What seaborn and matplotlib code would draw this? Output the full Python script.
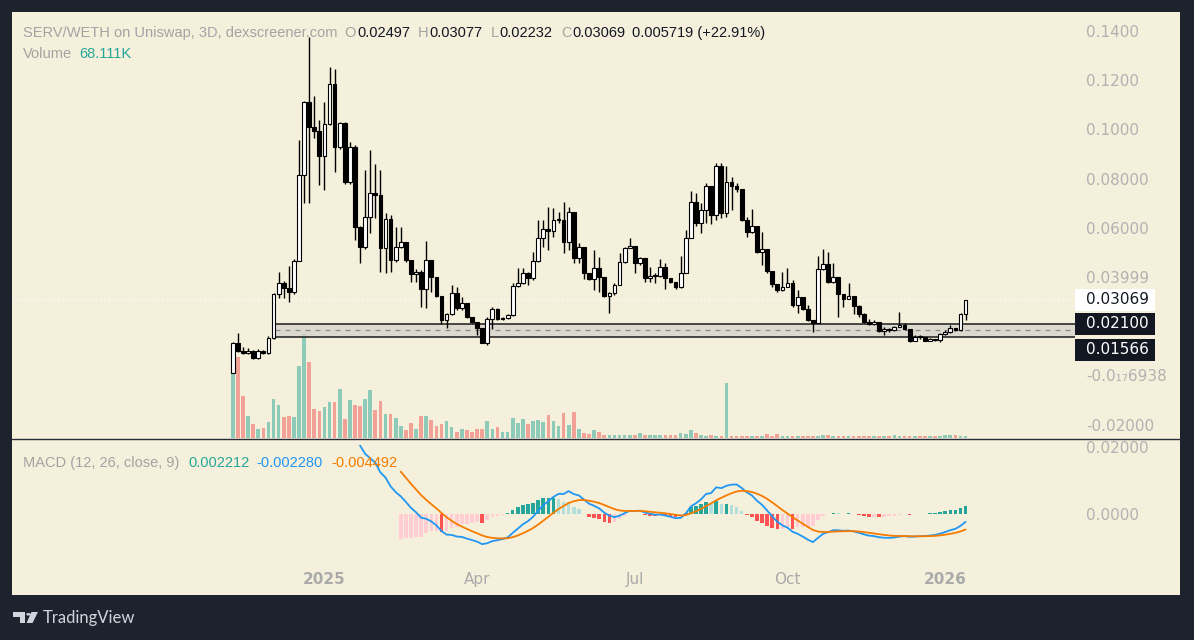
import numpy as np
import pandas as pd
import matplotlib
matplotlib.use('Agg')
import matplotlib.pyplot as plt
from matplotlib.patches import Rectangle, Polygon, Circle
import seaborn as sns

sns.set_theme(style='white')
plt.rcParams['font.family'] = ['DejaVu Sans']

# ---- data (3D candles, SERV/WETH) ----
first_open = 0.00085
close = [0.0133, 0.0100, 0.0090, 0.0099, 0.0069, 0.0100, 0.0090, 0.0151, 0.0330, 0.0377,
         0.0354, 0.0338, 0.0465, 0.0813, 0.1110, 0.1011, 0.0995, 0.0893, 0.1021, 0.1183,
         0.0930, 0.1025, 0.0787, 0.0927, 0.0605, 0.0523, 0.0645, 0.0743, 0.0733, 0.0519,
         0.0634, 0.0469, 0.0523, 0.0541, 0.0469, 0.0411, 0.0422, 0.0350, 0.0469, 0.0399,
         0.0324, 0.0225, 0.0248, 0.0334, 0.0273, 0.0296, 0.0236, 0.0218, 0.0191, 0.0133,
         0.0228, 0.0269, 0.0228, 0.0232, 0.0246, 0.0365, 0.0377, 0.0415, 0.0395, 0.0465,
         0.0560, 0.0596, 0.0588, 0.0630, 0.0630, 0.0544, 0.0664, 0.0476, 0.0523, 0.0415,
         0.0390, 0.0435, 0.0401, 0.0324, 0.0334, 0.0368, 0.0462, 0.0516, 0.0527, 0.0455,
         0.0476, 0.0395, 0.0405, 0.0405, 0.0442, 0.0395, 0.0381, 0.0358, 0.0415, 0.0557,
         0.0706, 0.0618, 0.0672, 0.0770, 0.0652, 0.0851, 0.0659, 0.0787, 0.0770, 0.0756,
         0.0632, 0.0584, 0.0607, 0.0503, 0.0512, 0.0425, 0.0370, 0.0347, 0.0361, 0.0374,
         0.0286, 0.0320, 0.0269, 0.0225, 0.0212, 0.0431, 0.0452, 0.0381, 0.0401, 0.0330,
         0.0311, 0.0323, 0.0282, 0.0248, 0.0218, 0.0209, 0.0218, 0.0182, 0.0187, 0.0185,
         0.0196, 0.0205, 0.0187, 0.0141, 0.0157, 0.0155, 0.0141, 0.0147, 0.0144, 0.0168,
         0.0178, 0.0194, 0.0185, 0.02497, 0.03069]
high = [0.0134, 0.0171, 0.0117, 0.0113, 0.0103, 0.0106, 0.0103, 0.0160, 0.0336, 0.0420,
        0.0385, 0.0446, 0.0472, 0.0957, 0.1117, 0.1376, 0.1136, 0.1037, 0.1113, 0.1252,
        0.1244, 0.1032, 0.1030, 0.0950, 0.0935, 0.0608, 0.0835, 0.0916, 0.0860, 0.0835,
        0.0659, 0.0650, 0.0605, 0.0605, 0.0544, 0.0469, 0.0431, 0.0428, 0.0546, 0.0469,
        0.0399, 0.0324, 0.0255, 0.0367, 0.0361, 0.0320, 0.0296, 0.0236, 0.0218, 0.0191,
        0.0236, 0.0280, 0.0273, 0.0236, 0.0250, 0.0374, 0.0435, 0.0435, 0.0420, 0.0503,
        0.0632, 0.0632, 0.0686, 0.0679, 0.0666, 0.0706, 0.0683, 0.0664, 0.0537, 0.0523,
        0.0415, 0.0510, 0.0483, 0.0401, 0.0340, 0.0374, 0.0496, 0.0523, 0.0557, 0.0527,
        0.0483, 0.0476, 0.0442, 0.0415, 0.0472, 0.0455, 0.0395, 0.0381, 0.0485, 0.0591,
        0.0751, 0.0740, 0.0699, 0.0781, 0.0770, 0.0862, 0.0864, 0.0851, 0.0808, 0.0781,
        0.0756, 0.0645, 0.0675, 0.0607, 0.0584, 0.0512, 0.0425, 0.0370, 0.0421, 0.0435,
        0.0388, 0.0347, 0.0320, 0.0286, 0.0225, 0.0485, 0.0512, 0.0503, 0.0455, 0.0401,
        0.0330, 0.0374, 0.0323, 0.0286, 0.0252, 0.0228, 0.0225, 0.0218, 0.0198, 0.0191,
        0.0201, 0.0256, 0.0212, 0.0187, 0.0164, 0.0164, 0.0155, 0.0151, 0.0149, 0.0174,
        0.0185, 0.0205, 0.0194, 0.0252, 0.03077]
low = [0.00085, 0.0096, 0.0088, 0.0085, 0.0066, 0.0066, 0.0087, 0.0088, 0.0148, 0.0313,
       0.0313, 0.0300, 0.0330, 0.0465, 0.0700, 0.0700, 0.0963, 0.0774, 0.0754, 0.1017,
       0.0828, 0.0920, 0.0780, 0.0780, 0.0551, 0.0456, 0.0512, 0.0578, 0.0641, 0.0422,
       0.0418, 0.0422, 0.0462, 0.0516, 0.0462, 0.0381, 0.0381, 0.0279, 0.0273, 0.0340,
       0.0320, 0.0209, 0.0191, 0.0245, 0.0266, 0.0266, 0.0232, 0.0214, 0.0164, 0.0130,
       0.0124, 0.0187, 0.0225, 0.0225, 0.0228, 0.0240, 0.0360, 0.0370, 0.0368, 0.0388,
       0.0460, 0.0523, 0.0510, 0.0564, 0.0618, 0.0496, 0.0510, 0.0458, 0.0455, 0.0390,
       0.0388, 0.0347, 0.0340, 0.0320, 0.0252, 0.0327, 0.0368, 0.0455, 0.0516, 0.0415,
       0.0449, 0.0381, 0.0381, 0.0374, 0.0401, 0.0350, 0.0374, 0.0350, 0.0354, 0.0415,
       0.0557, 0.0607, 0.0577, 0.0618, 0.0615, 0.0632, 0.0638, 0.0645, 0.0672, 0.0747,
       0.0629, 0.0561, 0.0577, 0.0499, 0.0449, 0.0415, 0.0361, 0.0340, 0.0344, 0.0358,
       0.0279, 0.0252, 0.0266, 0.0222, 0.0178, 0.0212, 0.0429, 0.0374, 0.0374, 0.0239,
       0.0279, 0.0309, 0.0250, 0.0239, 0.0212, 0.0205, 0.0205, 0.0178, 0.0164, 0.0178,
       0.0182, 0.0196, 0.0185, 0.0137, 0.0141, 0.0147, 0.0138, 0.0140, 0.0140, 0.0137,
       0.0164, 0.0171, 0.0182, 0.0182, 0.02232]
volume_k = [1950, 2430, 1260, 660, 420, 270, 300, 480, 1170, 990, 630, 660, 630, 2160, 3150,
            2280, 870, 810, 930, 1080, 1080, 1470, 570, 1140, 990, 960, 1170, 1440, 840, 1110,
            720, 720, 600, 360, 240, 450, 270, 660, 660, 540, 360, 420, 510, 330, 180, 270,
            240, 180, 270, 270, 510, 270, 330, 180, 180, 600, 450, 570, 420, 510, 540,
            480, 690, 510, 360, 750, 390, 780, 270, 150, 120, 240, 180, 90, 90, 90, 90, 90,
            90, 90, 150, 90, 90, 90, 90, 90, 90, 90, 150, 120, 240, 150,
            90, 60, 90, 60, 60, 1650, 60, 60, 60, 60, 60, 60, 60, 120, 60, 120, 60, 60, 60,
            60, 60, 60, 60, 60, 90, 90, 60, 60, 60, 60, 60,
            60, 60, 60, 60, 60, 60, 60, 90, 60, 60, 60, 60, 60, 60, 60, 60, 60, 90, 90, 90,
            60, 68.111]

zone_top, zone_bottom = 0.02100, 0.01566
zone_start = 8.3
last_price = 0.03069
price_ticks = [0.14, 0.12, 0.10, 0.08, 0.06, 0.04, 0.0, -0.02]
price_tick_labels = ['0.1400', '0.1200', '0.1000', '0.08000', '0.06000', '0.03999',
                     '-0.0\u2081\u20876938', '-0.02000']
macd_ticks = [0.02, 0.0]
macd_tick_labels = ['0.02000', '0.0000']
month_starts = ['2025-01-01', '2025-04-01', '2025-07-01', '2025-10-01', '2026-01-01']
month_labels = ['2025', 'Apr', 'Jul', 'Oct', '2026']

close = np.array(close)
high = np.array(high)
low = np.array(low)
volume_k = np.array(volume_k)
opn = np.r_[first_open, close[:-1]]
n = len(close)
idx = np.arange(n)
dates = pd.date_range('2024-11-08', periods=n, freq='3D')


def tv_ema(x, length):
    out = np.full(len(x), np.nan)
    ok = np.where(~np.isnan(x))[0]
    s = ok[0]
    out[s + length - 1] = np.mean(x[s:s + length])
    a = 2.0 / (length + 1)
    for i in range(s + length, len(x)):
        out[i] = a * x[i] + (1 - a) * out[i - 1]
    return out


macd = tv_ema(close, 12) - tv_ema(close, 26)
signal = tv_ema(macd, 9)
hist = macd - signal

# ---- colours ----
BG = '#1e222d'
CREAM = '#f5f0dc'
GRAY = '#a3a3a3'
INK = '#131722'
TEAL = '#26a69a'
BLUE = '#2196f3'
ORANGE = '#f57c00'

W, H = 1194, 640
fig = plt.figure(figsize=(W / 100, H / 100), dpi=100, facecolor=BG)
fig.add_artist(Rectangle((12 / W, 1 - 595 / H), 1168 / W, 583 / H,
                         transform=fig.transFigure, facecolor=CREAM, edgecolor='none', zorder=-10))

ax = fig.add_axes([12 / W, 1 - 438 / H, 1063 / W, 426 / H])
axv = ax.twinx()
axm = fig.add_axes([12 / W, 1 - 565 / H, 1063 / W, 126 / H])
XL = (-43.4, 165.5)

# volume (behind candles)
axv.set_zorder(ax.get_zorder() - 1)
ax.patch.set_visible(False)
axv.patch.set_visible(False)
up = close >= opn
vol_col = np.where(up, '#8dcbb8', '#f2a196')
axv.bar(idx, volume_k, width=0.72, color=vol_col, linewidth=0)
axv.set_ylim(0, 12780)
axv.set_yticks([])

# support zone
ax.add_patch(Rectangle((zone_start, zone_bottom), XL[1] - zone_start, zone_top - zone_bottom,
                       facecolor='#d6d4cc', alpha=0.8, edgecolor='none', zorder=1))
ax.hlines([zone_top, zone_bottom], zone_start, XL[1], color='#1a1a1a', lw=1.1, zorder=2)
ax.hlines((zone_top + zone_bottom) / 2, zone_start, XL[1], color='#8a8a8a', lw=0.9,
          linestyles=(0, (4, 4)), zorder=2)
ax.axhline(last_price, color='white', lw=1, ls=(0, (1, 2)), zorder=1.5)

# candles
body_lo = np.minimum(opn, close)
body_h = np.maximum(np.abs(close - opn), 0.0004)
ax.vlines(idx, low, high, color='black', lw=1, zorder=3)
ax.bar(idx, body_h, bottom=body_lo, width=0.74, color=np.where(up, 'white', 'black'),
       edgecolor='black', linewidth=0.8, zorder=4)

ax.set_xlim(XL)
ax.set_ylim(-0.02545, 0.14772)
ax.yaxis.tick_right()
ax.set_yticks(price_ticks)
ax.set_yticklabels(price_tick_labels)
ax.tick_params(axis='y', length=0, pad=8, labelsize=11, labelcolor='#b2b2b2')
ax.set_xticks([])
for a in (ax, axv, axm):
    for s in a.spines.values():
        s.set_visible(False)

# MACD pane
hprev = np.r_[np.nan, hist[:-1]]
rising = np.isnan(hprev) | (hprev < hist)
hcol = np.where(hist >= 0, np.where(rising, '#26a69a', '#b2dfdb'),
                np.where(rising, '#ffcdd2', '#ff5252'))
axm.bar(idx, hist, width=0.7, color=hcol, linewidth=0)
sns.lineplot(x=idx, y=macd, ax=axm, color=BLUE, lw=1.3, estimator=None, sort=False)
sns.lineplot(x=idx, y=signal, ax=axm, color=ORANGE, lw=1.3, estimator=None, sort=False)
axm.set_xlim(XL)
axm.set_ylim(-0.015224, 0.022388)
axm.patch.set_visible(False)
axm.yaxis.tick_right()
axm.set_yticks(macd_ticks)
axm.set_yticklabels(macd_tick_labels)
axm.set_ylabel('')
axm.tick_params(axis='y', length=0, pad=8, labelsize=11, labelcolor='#b2b2b2')
tick_pos = [int(np.argmax(dates >= pd.Timestamp(d))) for d in month_starts]
axm.set_xticks(tick_pos)
axm.set_xticklabels(month_labels)
axm.tick_params(axis='x', length=0, pad=5, labelsize=11, labelcolor='#aaaaaa')
for lab in axm.get_xticklabels():
    if lab.get_text().isdigit():
        lab.set_fontweight('bold')

# pane separator
fig.add_artist(plt.Line2D([12 / W, 1180 / W], [1 - 438.5 / H, 1 - 438.5 / H],
                          transform=fig.transFigure, color='#2a2e39', lw=1))


# price labels on the scale
def y_px(v):
    y0, y1 = ax.get_ylim()
    return 12 + (y1 - v) / (y1 - y0) * 426


def price_box(v, fc, tc, dy=0):
    yc = y_px(v) + dy
    fig.add_artist(Rectangle((1075 / W, 1 - (yc + 11) / H), 80 / W, 22 / H,
                             transform=fig.transFigure, facecolor=fc, edgecolor='none', zorder=5))
    fig.text(1086 / W, 1 - yc / H, '%.5f' % v, color=tc, fontsize=11, va='center',
             ha='left', zorder=6)


price_box(last_price, 'white', INK)
price_box(zone_top, INK, 'white')
price_box(zone_bottom, INK, 'white', dy=13)

# legends
LEG = ['Liberation Sans', 'DejaVu Sans']
renderer = fig.canvas.get_renderer()


def text_row(items, x, y, size=10.5):
    for txt, col, gap in items:
        t = fig.text(x / W, 1 - y / H, txt, color=col, fontsize=size, va='center',
                     ha='left', family=LEG)
        x += t.get_window_extent(renderer).width + gap


text_row([('SERV/WETH on Uniswap, 3D, dexscreener.com', GRAY, 7),
          ('O', GRAY, 1), ('0.02497', INK, 8),
          ('H', GRAY, 1), ('0.03077', INK, 8),
          ('L', GRAY, 1), ('0.02232', INK, 8),
          ('C', GRAY, 1), ('0.03069', INK, 7),
          ('0.005719 (+22.91%)', INK, 0)], 23, 33)
text_row([('Volume', GRAY, 7), ('68.111K', TEAL, 0)], 23, 54)
text_row([('MACD (12, 26, close, 9)', GRAY, 9), ('0.002212', TEAL, 7),
          ('-0.002280', BLUE, 9), ('-0.004492', ORANGE, 0)], 23, 463)

# TradingView logo
LOGO = '#d1d4dc'
fig.add_artist(Polygon([(13 / W, 1 - 612 / H), (25 / W, 1 - 612 / H), (25 / W, 1 - 623 / H),
                        (19.5 / W, 1 - 623 / H), (19.5 / W, 1 - 616.5 / H), (13 / W, 1 - 616.5 / H)],
                       closed=True, transform=fig.transFigure, facecolor=LOGO, edgecolor='none'))
fig.add_artist(Circle((28.5 / W, 1 - 614.3 / H), 2.3 / W, transform=fig.transFigure,
                      facecolor=LOGO, edgecolor='none'))
fig.add_artist(Polygon([(31.5 / W, 1 - 612 / H), (38 / W, 1 - 612 / H), (32.5 / W, 1 - 623 / H),
                        (26.5 / W, 1 - 623 / H)],
                       closed=True, transform=fig.transFigure, facecolor=LOGO, edgecolor='none'))
fig.text(43 / W, 1 - 618 / H, 'TradingView', color=LOGO, fontsize=12, va='center', ha='left',
         family=['Lato', 'DejaVu Sans'])

fig.savefig('out.png', dpi=100, facecolor=BG)
